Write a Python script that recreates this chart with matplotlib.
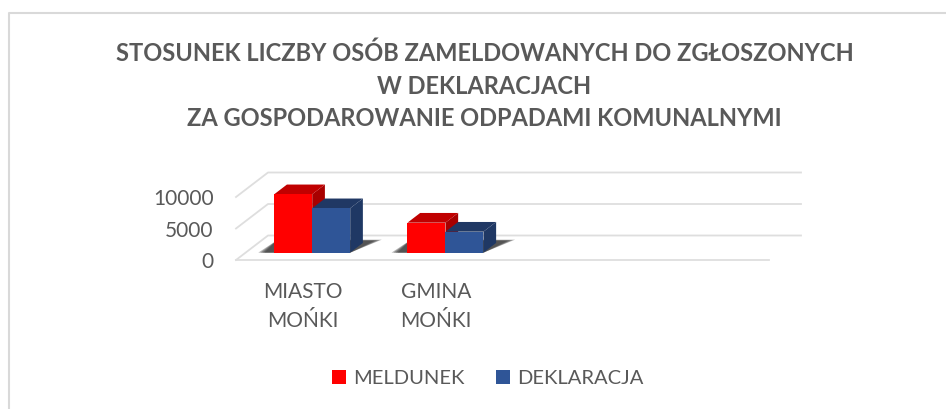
#!/usr/bin/env python3
import matplotlib
matplotlib.use("Agg")
import matplotlib.pyplot as plt
from matplotlib.lines import Line2D
from matplotlib.patches import Patch, Polygon

categories = ["MIASTO\nMOŃKI", "GMINA\nMOŃKI", "", ""]
meldunek = [9270, 4760]
deklaracja = [7050, 3330]
y_ticks = [0, 5000, 10000]
title = ("STOSUNEK LICZBY OSÓB ZAMELDOWANYCH DO ZGŁOSZONYCH\n"
         "W DEKLARACJACH\n"
         "ZA GOSPODAROWANIE ODPADAMI KOMUNALNYMI")

W, H = 946, 409
RED, RED_TOP, RED_SIDE = "#ff0000", "#c00000", "#a80000"
BLUE, BLUE_TOP, BLUE_SIDE = "#2f5597", "#203864", "#1f3864"
GRID = "#dedede"
TEXT = "#595959"

plt.rcParams["font.family"] = ["Lato", "DejaVu Sans"]

fig = plt.figure(figsize=(W / 100, H / 100), dpi=100)

# front plane of the fake 3d box, from pixel positions in the reference
left, right, y0, y10k = 236, 769, 260, 197
ax = fig.add_axes([left / W, 1 - y0 / H, (right - left) / W, (y0 - y10k) / H])
ax.set_xlim(0, len(categories))
ax.set_ylim(0, 10000)

# how far the back wall is shifted, in data units
DX = 32 / ((right - left) / len(categories))
DY = 24.5 / ((y0 - y10k) / 10000)


def proj(x, y, d):
    return x + d * DX, y + d * DY


# walls and floor
for v in y_ticks:
    xa, ya = proj(0, v, 0)
    xb, yb = proj(0, v, 1)
    xc, yc = proj(len(categories), v, 1)
    ax.add_line(Line2D([xa, xb, xc], [ya, yb, yc], color=GRID, lw=1.3, clip_on=False))
ax.add_line(Line2D([0, len(categories)], [0, 0], color=GRID, lw=1.3, clip_on=False))

BAR_W = 0.285
D0, D1 = 0.3, 0.696


def bar3d(x0, value, front, top, side):
    x1 = x0 + BAR_W
    pts = {
        "top": [proj(x0, value, D0), proj(x1, value, D0), proj(x1, value, D1), proj(x0, value, D1)],
        "side": [proj(x1, 0, D0), proj(x1, value, D0), proj(x1, value, D1), proj(x1, 0, D1)],
        "front": [proj(x0, 0, D0), proj(x1, 0, D0), proj(x1, value, D0), proj(x0, value, D0)],
    }
    ax.add_patch(Polygon(pts["side"], fc=side, ec="none", clip_on=False, zorder=3))
    ax.add_patch(Polygon(pts["top"], fc=top, ec="none", clip_on=False, zorder=3))
    ax.add_patch(Polygon(pts["front"], fc=front, ec="none", clip_on=False, zorder=3))


for i in range(len(meldunek)):
    x_red = i + 0.5 - BAR_W
    x_blue = i + 0.5
    # soft floor shadow behind both bars, a few see-through layers
    for grow in [0.03, 0.015, 0.0, -0.015]:
        shadow = [proj(x_red - 0.09 - grow, 0, D0), proj(x_blue + BAR_W, 0, D0),
                  proj(x_blue + BAR_W + 0.08 + grow, 0, 0.8 + grow),
                  proj(x_red - 0.1, 0, 0.8 + grow)]
        ax.add_patch(Polygon(shadow, fc="#303030", ec="none", alpha=0.35, clip_on=False, zorder=2))
    bar3d(x_red, meldunek[i], RED, RED_TOP, RED_SIDE)
    bar3d(x_blue, deklaracja[i], BLUE, BLUE_TOP, BLUE_SIDE)

for s in ax.spines.values():
    s.set_visible(False)
ax.patch.set_visible(False)
ax.set_yticks(y_ticks)
ax.set_xticks([i + 0.5 for i in range(len(categories))])
ax.set_xticklabels(categories, linespacing=1.55)
ax.tick_params(axis="both", length=0, labelsize=15, labelcolor=TEXT)
ax.tick_params(axis="x", pad=15.7)
ax.tick_params(axis="y", pad=16)

fig.text(484.5 / W, 1 - 86 / H, title, ha="center", va="center", fontsize=17,
         fontweight="bold", color=TEXT, linespacing=1.5)

handles = [Patch(fc=RED, label="MELDUNEK"), Patch(fc=BLUE, label="DEKLARACJA")]
fig.legend(handles=handles, loc="center", bbox_to_anchor=(488 / W, 1 - 378.5 / H), ncol=2,
           frameon=False, fontsize=14.5, labelcolor=TEXT, handlelength=0.69, handleheight=0.69,
           handletextpad=0.35, columnspacing=1.58)

# chart frame, cropped on the right and bottom in the reference
fig.add_artist(Line2D([9 / W, 9 / W, 1], [0, 1 - 12.5 / H, 1 - 12.5 / H], color="#d9d9d9", lw=1.5))

plt.savefig("out.png", dpi=100)
plt.close()
